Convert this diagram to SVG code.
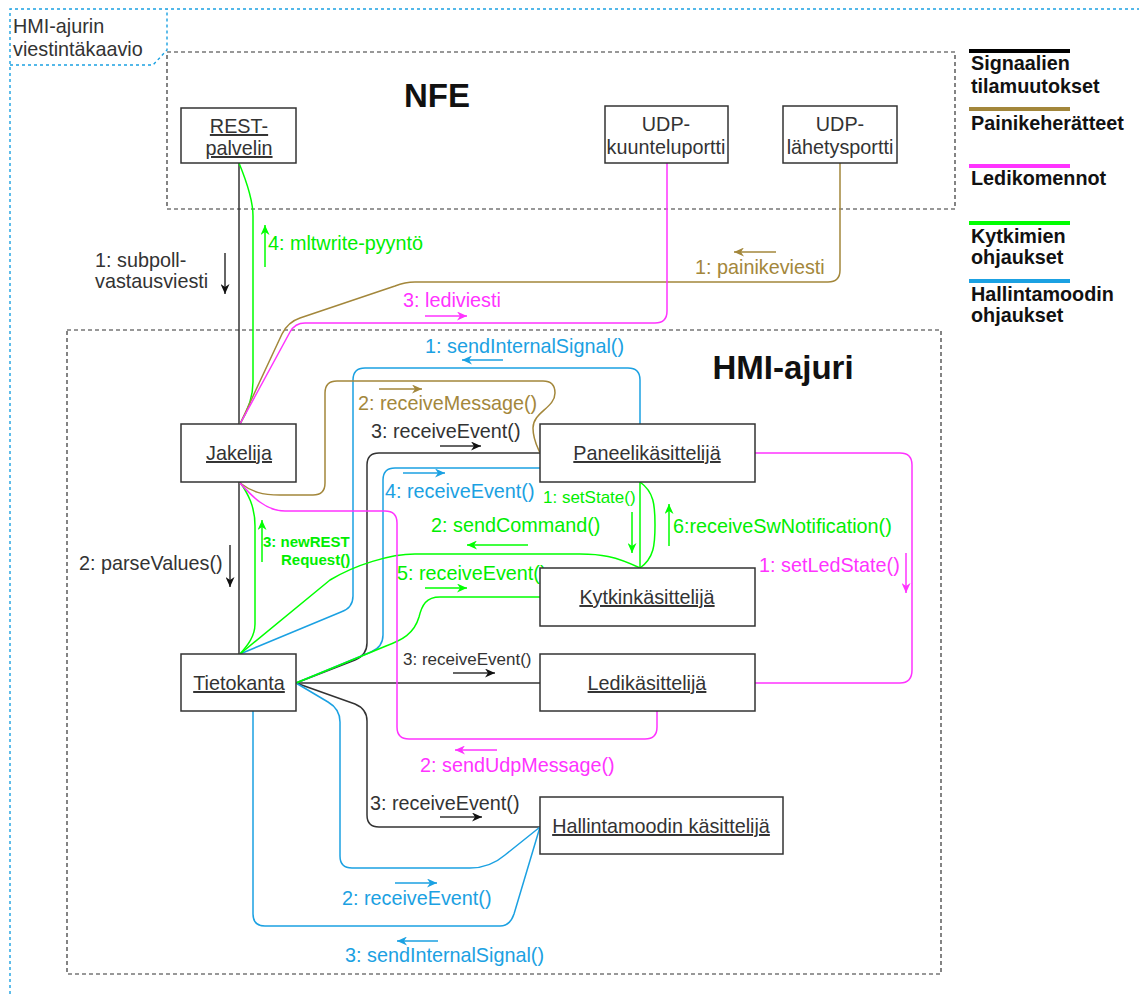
<svg xmlns="http://www.w3.org/2000/svg" width="1139" height="994" viewBox="0 0 1139 994">
  <style>
    text { font-family: "Liberation Sans", Arial, sans-serif; font-size: 19.8px; fill: #333; }
    .node rect { fill: #fff; stroke: #333; stroke-width: 1.5; }
    .node text { text-anchor: middle; }
    .u { text-decoration: underline; }
    .frame { fill: none; stroke: #333; stroke-width: 1.2; stroke-dasharray: 4 3; }
    .outer { fill: none; stroke: #1ba1e2; stroke-width: 1.4; stroke-dasharray: 3 3; }
    .c { fill: none; stroke-width: 1.5; stroke-linejoin: round; }
    .k { stroke: #333; }
    .b { stroke: #1ba1e2; }
    .g { stroke: #00ff00; }
    .r { stroke: #a3873b; }
    .m { stroke: #ff33ff; }
    .tk { fill: #333; }
    .tb { fill: #1ba1e2; }
    .tg { fill: #00ee00; }
    .tr { fill: #a3873b; }
    .tm { fill: #ff33ff; }
    .big { font-weight: bold; font-size: 33px; fill: #111; }
    .leg text { font-weight: bold; fill: #111; }
    .sm { font-size: 17px; }
    .nb { font-size: 15px; font-weight: bold; }
  </style>
  <defs>
    <marker id="ak" markerUnits="userSpaceOnUse" markerWidth="11" markerHeight="9" refX="10" refY="4.5" orient="auto"><path d="M0,0 L10,4.5 L0,9 L3,4.5 z" fill="#111"/></marker>
    <marker id="ab" markerUnits="userSpaceOnUse" markerWidth="11" markerHeight="9" refX="10" refY="4.5" orient="auto"><path d="M0,0 L10,4.5 L0,9 L3,4.5 z" fill="#1ba1e2"/></marker>
    <marker id="ag" markerUnits="userSpaceOnUse" markerWidth="11" markerHeight="9" refX="10" refY="4.5" orient="auto"><path d="M0,0 L10,4.5 L0,9 L3,4.5 z" fill="#00ff00"/></marker>
    <marker id="ar" markerUnits="userSpaceOnUse" markerWidth="11" markerHeight="9" refX="10" refY="4.5" orient="auto"><path d="M0,0 L10,4.5 L0,9 L3,4.5 z" fill="#a3873b"/></marker>
    <marker id="am" markerUnits="userSpaceOnUse" markerWidth="11" markerHeight="9" refX="10" refY="4.5" orient="auto"><path d="M0,0 L10,4.5 L0,9 L3,4.5 z" fill="#ff33ff"/></marker>
  </defs>

  <rect width="1139" height="994" fill="#fff"/>

  <!-- outer frame with title tab -->
  <g id="frame">
    <path class="outer" d="M10,994 L10,9 L1139,9"/>
    <path class="outer" d="M10,65 L153,65 L167,50 L167,9"/>
    <text x="13" y="33">HMI-ajurin</text>
    <text x="13" y="56">viestintäkaavio</text>
  </g>

  <!-- containers -->
  <g id="nfe">
    <rect class="frame" x="167" y="52" width="788" height="157"/>
    <text class="big" x="437" y="107" text-anchor="middle">NFE</text>
  </g>
  <g id="hmi-ajuri">
    <rect class="frame" x="67" y="330" width="874" height="644"/>
    <text class="big" x="783" y="379" text-anchor="middle">HMI-ajuri</text>
  </g>

  <!-- legend -->
  <g id="legend" class="leg">
    <line x1="969" y1="51" x2="1070" y2="51" stroke="#000" stroke-width="4"/>
    <text x="971" y="70">Signaalien</text>
    <text x="971" y="93">tilamuutokset</text>
    <line x1="969" y1="109" x2="1070" y2="109" stroke="#a3873b" stroke-width="4"/>
    <text x="971" y="130">Painikeherätteet</text>
    <line x1="969" y1="166" x2="1070" y2="166" stroke="#ff33ff" stroke-width="4"/>
    <text x="971" y="185">Ledikomennot</text>
    <line x1="969" y1="223" x2="1070" y2="223" stroke="#00ff00" stroke-width="4"/>
    <text x="971" y="243">Kytkimien</text>
    <text x="971" y="264">ohjaukset</text>
    <line x1="969" y1="281" x2="1070" y2="281" stroke="#1ba1e2" stroke-width="4"/>
    <text x="971" y="301">Hallintamoodin</text>
    <text x="971" y="322">ohjaukset</text>
  </g>

  <!-- connectors -->
  <g id="connectors">
    <!-- signal state changes -->
    <path class="c k" d="M239,163 L239,424"/>
    <path class="c k" d="M239,482 L239,654"/>
    <path class="c k" d="M296,683 L355,660 Q367,655 367,643 L367,465 Q367,453 379,453 L540,453"/>
    <path class="c k" d="M296,683 L540,683"/>
    <path class="c k" d="M296,683 L355,704 Q367,709 367,721 L367,815 Q367,827 379,827 L540,827"/>
    <!-- control mode -->
    <path class="c b" d="M640,424 L640,380 Q640,368 628,368 L365,368 Q353,368 353,380 L353,596 Q353,608 341,612 L240,654"/>
    <path class="c b" d="M296,683 L371,652 Q383,647 383,635 L383,480 Q383,468 395,468 L540,468"/>
    <path class="c b" d="M296,683 L328,702 Q340,709 340,722 L340,856 Q340,868 352,868 L470,868 Q490,868 505,855 L540,827"/>
    <path class="c b" d="M253,711 L253,914 Q253,926 265,926 L500,926 Q510,926 514,914 L540,827"/>
    <!-- switch controls -->
    <path class="c g" d="M239,163 C246,180 253,200 253,216 L253,382 C253,400 246,414 240,424"/>
    <path class="c g" d="M240,482 C248,494 255,506 255,526 L255,624 C255,636 248,645 240,654"/>
    <path class="c g" d="M640,568 C615,556 600,554 580,554 L415,554 C390,554 355,565 330,580 L240,654"/>
    <path class="c g" d="M540,597 L440,597 C426,597 422,605 419,617 C414,634 402,640 386,646 L296,683"/>
    <path class="c g" d="M640,482 L640,568"/>
    <path class="c g" d="M640,482 C654,492 655,505 655,525 C655,545 654,558 640,568"/>
    <!-- button events -->
    <path class="c r" d="M840,163 L840,270 Q840,282 828,282 L415,282 Q405,282 395,286 L300,318 Q288,322 282,334 L240,424"/>
    <path class="c r" d="M240,483 C252,492 262,495 280,495 L313,495 Q325,495 325,483 L325,393 Q325,381 337,381 L543,381 Q555,381 555,393 C555,408 533,412 533,428 C533,440 538,448 540,453"/>
    <!-- led commands -->
    <path class="c m" d="M667,163 L667,311 Q667,323 655,323 L305,323 Q295,323 290,332 L240,424"/>
    <path class="c m" d="M755,453 L900,453 Q912,453 912,465 L912,670 Q912,683 900,683 L755,683"/>
    <path class="c m" d="M657,711 L657,727 Q657,739 645,739 L409,739 Q397,739 397,727 L397,523 Q397,511 385,511 L285,511 C265,511 251,495 240,483"/>
  </g>

  <!-- message labels with direction arrows -->
  <g id="labels">
    <text class="tk" x="95" y="267">1: subpoll-</text>
    <text class="tk" x="95" y="288">vastausviesti</text>
    <line class="c k" x1="225" y1="253" x2="225" y2="294" marker-end="url(#ak)"/>
    <text class="tk" x="79" y="570">2: parseValues()</text>
    <line class="c k" x1="230" y1="545" x2="230" y2="587" marker-end="url(#ak)"/>
    <text class="tk" x="371" y="438">3: receiveEvent()</text>
    <line class="c k" x1="440" y1="446" x2="481" y2="446" marker-end="url(#ak)"/>
    <text class="tk sm" x="403" y="665">3: receiveEvent()</text>
    <line class="c k" x1="453" y1="673" x2="495" y2="673" marker-end="url(#ak)"/>
    <text class="tk" x="370" y="810">3: receiveEvent()</text>
    <line class="c k" x1="440" y1="817" x2="482" y2="817" marker-end="url(#ak)"/>

    <text class="tb" x="425" y="353">1: sendInternalSignal()</text>
    <line class="c b" x1="503" y1="360" x2="462" y2="360" marker-end="url(#ab)"/>
    <text class="tb" x="385" y="498">4: receiveEvent()</text>
    <line class="c b" x1="403" y1="473" x2="445" y2="473" marker-end="url(#ab)"/>
    <text class="tb" x="342" y="905">2: receiveEvent()</text>
    <line class="c b" x1="395" y1="883" x2="437" y2="883" marker-end="url(#ab)"/>
    <text class="tb" x="345" y="962">3: sendInternalSignal()</text>
    <line class="c b" x1="438" y1="941" x2="397" y2="941" marker-end="url(#ab)"/>

    <text class="tg" x="268" y="250">4: mltwrite-pyyntö</text>
    <line class="c g" x1="265" y1="267" x2="265" y2="225" marker-end="url(#ag)"/>
    <text class="tg nb" x="263" y="547">3: newREST</text>
    <text class="tg nb" x="281" y="565">Request()</text>
    <line class="c g" x1="262" y1="562" x2="262" y2="520" marker-end="url(#ag)"/>
    <text class="tg" x="431" y="532">2: sendCommand()</text>
    <line class="c g" x1="528" y1="545" x2="467" y2="545" marker-end="url(#ag)"/>
    <text class="tg" x="397" y="580">5: receiveEvent()</text>
    <line class="c g" x1="425" y1="588" x2="467" y2="588" marker-end="url(#ag)"/>
    <text class="tg sm" x="543" y="503">1: setState()</text>
    <line class="c g" x1="632" y1="512" x2="632" y2="553" marker-end="url(#ag)"/>
    <text class="tg" x="673" y="533">6:receiveSwNotification()</text>
    <line class="c g" x1="669" y1="546" x2="669" y2="504" marker-end="url(#ag)"/>

    <text class="tr" x="695" y="274">1: painikeviesti</text>
    <line class="c r" x1="776" y1="252" x2="734" y2="252" marker-end="url(#ar)"/>
    <text class="tr" x="358" y="410">2: receiveMessage()</text>
    <line class="c r" x1="379" y1="389" x2="422" y2="389" marker-end="url(#ar)"/>

    <text class="tm" x="403" y="307">3: lediviesti</text>
    <line class="c m" x1="425" y1="316" x2="467" y2="316" marker-end="url(#am)"/>
    <text class="tm" x="759" y="572">1: setLedState()</text>
    <line class="c m" x1="906" y1="553" x2="906" y2="593" marker-end="url(#am)"/>
    <text class="tm" x="420" y="772">2: sendUdpMessage()</text>
    <line class="c m" x1="497" y1="750" x2="455" y2="750" marker-end="url(#am)"/>
  </g>

  <!-- nodes -->
  <g id="rest-palvelin" class="node">
    <rect x="181" y="108" width="115" height="55"/>
    <text class="u" x="239" y="133">REST-</text>
    <text class="u" x="239" y="155">palvelin</text>
  </g>
  <g id="udp-kuunteluportti" class="node">
    <rect x="605" y="106" width="123" height="57"/>
    <text x="666" y="131">UDP-</text>
    <text x="666" y="154">kuunteluportti</text>
  </g>
  <g id="udp-lahetysportti" class="node">
    <rect x="783" y="106" width="114" height="57"/>
    <text x="840" y="131">UDP-</text>
    <text x="840" y="154">lähetysportti</text>
  </g>
  <g id="jakelija" class="node">
    <rect x="181" y="424" width="115" height="58"/>
    <text class="u" x="239" y="460">Jakelija</text>
  </g>
  <g id="tietokanta" class="node">
    <rect x="181" y="654" width="115" height="57"/>
    <text class="u" x="239" y="690">Tietokanta</text>
  </g>
  <g id="paneelikasittelija" class="node">
    <rect x="540" y="424" width="215" height="58"/>
    <text class="u" x="647" y="460">Paneelikäsittelijä</text>
  </g>
  <g id="kytkinkasittelija" class="node">
    <rect x="540" y="568" width="215" height="58"/>
    <text class="u" x="647" y="604">Kytkinkäsittelijä</text>
  </g>
  <g id="ledikasittelija" class="node">
    <rect x="540" y="654" width="215" height="57"/>
    <text class="u" x="647" y="690">Ledikäsittelijä</text>
  </g>
  <g id="hallintamoodin-kasittelija" class="node">
    <rect x="540" y="797" width="243" height="57"/>
    <text class="u" x="661" y="833">Hallintamoodin käsittelijä</text>
  </g>
</svg>
